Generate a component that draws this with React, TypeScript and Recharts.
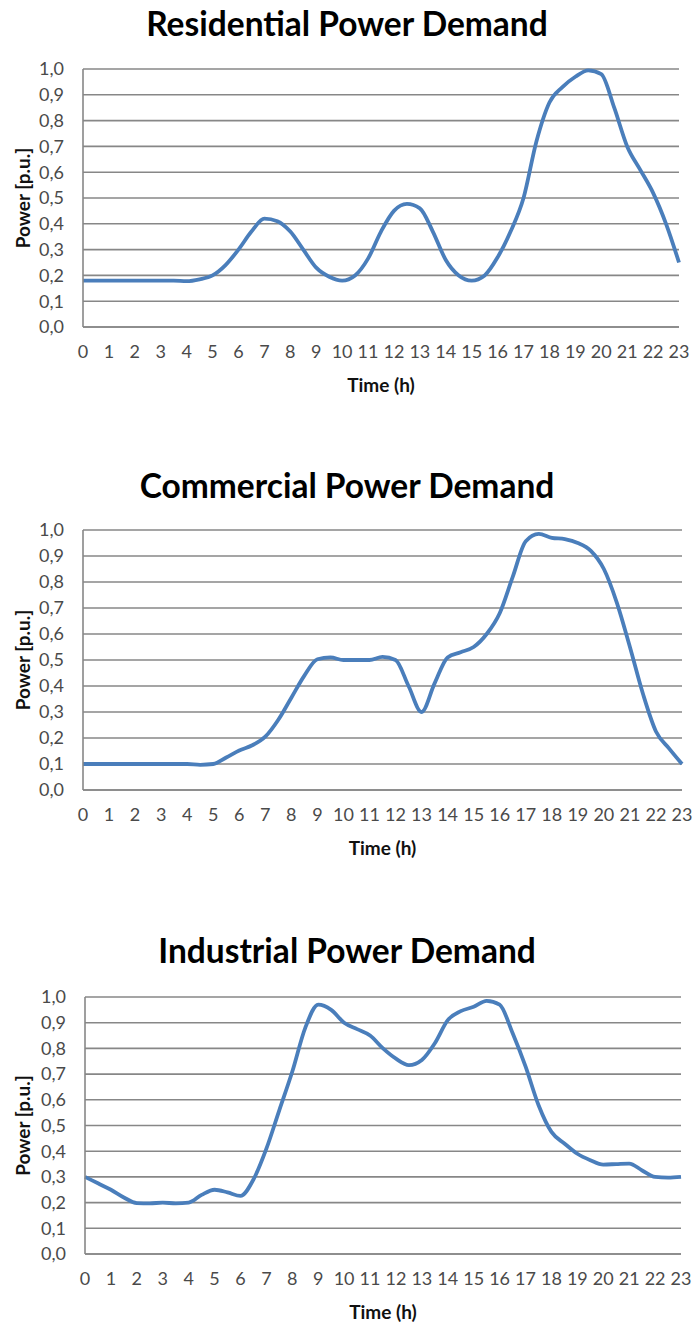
import { CartesianGrid, Line, LineChart, XAxis, YAxis } from "recharts";

// time in hours (half-hour steps)
const hours = [
  0, 0.5, 1, 1.5, 2, 2.5, 3, 3.5, 4, 4.5, 5, 5.5, 6, 6.5, 7, 7.5, 8, 8.5, 9, 9.5, 10, 10.5, 11, 11.5,
  12, 12.5, 13, 13.5, 14, 14.5, 15, 15.5, 16, 16.5, 17, 17.5, 18, 18.5, 19, 19.5, 20, 20.5, 21, 21.5,
  22, 22.5, 23,
];

const residential = [
  0.18, 0.18, 0.18, 0.18, 0.18, 0.18, 0.18, 0.18, 0.178, 0.185, 0.2, 0.24, 0.3, 0.37, 0.42, 0.41, 0.37,
  0.3, 0.23, 0.195, 0.18, 0.2, 0.265, 0.37, 0.45, 0.477, 0.46, 0.37, 0.26, 0.2, 0.18, 0.2, 0.27, 0.37,
  0.5, 0.72, 0.87, 0.93, 0.97, 0.995, 0.98, 0.85, 0.7, 0.61, 0.52, 0.4, 0.25,
];

const commercial = [
  0.1, 0.1, 0.1, 0.1, 0.1, 0.1, 0.1, 0.1, 0.1, 0.097, 0.1, 0.125, 0.152, 0.172, 0.205, 0.27, 0.355, 0.44,
  0.503, 0.51, 0.5, 0.5, 0.5, 0.512, 0.5, 0.4, 0.3, 0.41, 0.51, 0.53, 0.55, 0.6, 0.68, 0.82, 0.957, 0.985,
  0.97, 0.965, 0.95, 0.92, 0.85, 0.72, 0.55, 0.37, 0.225, 0.16, 0.1,
];

const industrial = [
  0.3, 0.275, 0.25, 0.22, 0.198, 0.197, 0.2, 0.197, 0.2, 0.23, 0.25, 0.24, 0.226, 0.29, 0.41, 0.56, 0.71,
  0.88, 0.97, 0.95, 0.9, 0.875, 0.85, 0.8, 0.76, 0.735, 0.755, 0.82, 0.91, 0.945, 0.962, 0.985, 0.97,
  0.86, 0.73, 0.58, 0.475, 0.43, 0.39, 0.365, 0.348, 0.35, 0.352, 0.325, 0.3, 0.297, 0.3,
];

const hourTicks = [0, 1, 2, 3, 4, 5, 6, 7, 8, 9, 10, 11, 12, 13, 14, 15, 16, 17, 18, 19, 20, 21, 22, 23];
const powerTicks = [0, 0.1, 0.2, 0.3, 0.4, 0.5, 0.6, 0.7, 0.8, 0.9, 1.0];

const FONT = "Lato, 'Open Sans', sans-serif";
const GRID = "#878787";
const BLUE = "#4a7ebb";
const TICK = "#4a4a4a";

type Panel = {
  title: string;
  values: number[];
  titleY: number;
  plotTop: number;
  plotBottom: number;
  plotLeft: number;
  plotRight: number;
};

const panels: Panel[] = [
  { title: "Residential Power Demand", values: residential, titleY: 23, plotTop: 69, plotBottom: 327, plotLeft: 83, plotRight: 679 },
  { title: "Commercial Power Demand", values: commercial, titleY: 485, plotTop: 530, plotBottom: 790, plotLeft: 83, plotRight: 682 },
  { title: "Industrial Power Demand", values: industrial, titleY: 950, plotTop: 997, plotBottom: 1254, plotLeft: 85, plotRight: 681 },
];

const TOP_PAD = 22;

function DemandChart({ p }: { p: Panel }) {
  const data = hours.map((h, i) => ({ h, v: p.values[i] }));
  const top = p.plotTop - TOP_PAD;
  const xAxisH = 72;
  const height = TOP_PAD + (p.plotBottom - p.plotTop) + xAxisH;
  const fmt = (v: number) => v.toFixed(1).replace(".", ",");

  return (
    <>
      <div
        style={{
          position: "absolute",
          left: 0,
          width: 694,
          top: p.titleY - 20,
          height: 40,
          lineHeight: "40px",
          textAlign: "center",
          fontFamily: FONT,
          fontWeight: 700,
          fontSize: 33.5,
          color: "#000",
        }}
      >
        {p.title}
      </div>
      <div style={{ position: "absolute", left: 0, top }}>
        <LineChart
          width={694}
          height={height}
          data={data}
          margin={{ top: TOP_PAD, right: 694 - p.plotRight, bottom: 0, left: 0 }}
        >
          <CartesianGrid vertical={false} stroke={GRID} strokeWidth={1.6} />
          <XAxis
            dataKey="h"
            type="number"
            domain={[0, 23]}
            ticks={hourTicks}
            interval={0}
            height={xAxisH}
            axisLine={{ stroke: GRID, strokeWidth: 1.6 }}
            tickLine={false}
            tickSize={0}
            tickMargin={18}
            tick={{ fill: TICK, fontSize: 18, fontFamily: FONT }}
            label={({ viewBox }: any) => (
              <text
                x={viewBox.x + viewBox.width / 2}
                y={viewBox.y + 57}
                textAnchor="middle"
                dominantBaseline="central"
                fontFamily={FONT}
                fontWeight={700}
                fontSize={19}
                fill="#111"
              >
                Time (h)
              </text>
            )}
          />
          <YAxis
            type="number"
            domain={[0, 1]}
            ticks={powerTicks}
            interval={0}
            width={p.plotLeft}
            tickFormatter={fmt}
            axisLine={{ stroke: GRID, strokeWidth: 1.6 }}
            tickLine={false}
            tickSize={0}
            tickMargin={19}
            tick={{ fill: TICK, fontSize: 18, fontFamily: FONT }}
            label={({ viewBox }: any) => {
              const cy = viewBox.y + viewBox.height / 2;
              return (
                <text
                  x={22}
                  y={cy}
                  transform={`rotate(-90, 22, ${cy})`}
                  textAnchor="middle"
                  dominantBaseline="central"
                  fontFamily={FONT}
                  fontWeight={700}
                  fontSize={19}
                  fill="#111"
                >
                  Power [p.u.]
                </text>
              );
            }}
          />
          <Line
            type="monotone"
            dataKey="v"
            stroke={BLUE}
            strokeWidth={3.8}
            dot={false}
            activeDot={false}
            isAnimationActive={false}
          />
        </LineChart>
      </div>
    </>
  );
}

export default function App() {
  return (
    <div style={{ position: "absolute", left: 0, top: 0, width: 694, height: 1325, background: "#fff" }}>
      {panels.map((p) => (
        <DemandChart key={p.title} p={p} />
      ))}
    </div>
  );
}
